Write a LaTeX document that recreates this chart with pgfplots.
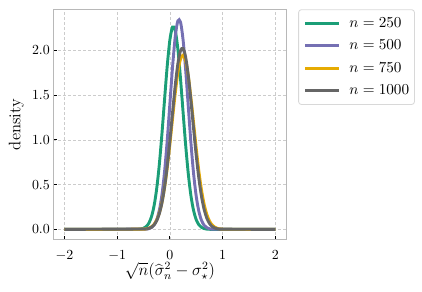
\documentclass[border=0pt]{standalone}
\usepackage{pgfplots}
\pgfplotsset{compat=1.18}
\definecolor{cgreen}{HTML}{1B9E77}
\definecolor{cpurple}{HTML}{7570B3}
\definecolor{cyellow}{HTML}{E6AB02}
\definecolor{cgray}{HTML}{666666}
\definecolor{framec}{HTML}{B8B8B8}
\definecolor{gridc}{HTML}{CCCCCC}
\definecolor{legc}{HTML}{D8D8D8}
\begin{document}
\begin{tikzpicture}
\path[use as bounding box] (-38.4pt,-37.2pt) rectangle (265.6pt,172.8pt);
\begin{axis}[
  scale only axis, width=168pt, height=166.1pt,
  xmin=-2.21, xmax=2.21, ymin=-0.117, ymax=2.457,
  xtick={-2,-1,0,1,2}, ytick={0,0.5,1,1.5,2},
  yticklabel style={xshift=1pt, /pgf/number format/fixed, /pgf/number format/fixed zerofill, /pgf/number format/precision=1},
  xticklabel style={yshift=-4.3pt},
  tick pos=left, tick align=inside, major tick length=3pt,
  tick style={black, line width=0.6pt},
  axis line style={framec, line width=0.8pt},
  grid=major, major grid style={gridc, line width=0.45pt, dash pattern=on 2.2pt off 1.4pt},
  tick label style={font=\fontsize{10}{12}\selectfont},
  xlabel={$\sqrt{n}(\widehat{\sigma}_n^2-\sigma_\star^2)$},
  ylabel={density},
  label style={font=\fontsize{12}{14}\selectfont},
  xlabel style={at={(axis description cs:0.5,-0.1355)}, anchor=center},
  ylabel style={at={(axis description cs:-0.159,0.5)}, anchor=center},
  legend cell align=left,
  legend image code/.code={\draw[#1, line width=2.1pt] (0pt,0pt) -- (24pt,0pt); \path (30.7pt,0pt);},
  legend style={at={(1.05,1)}, anchor=north west, draw=legc, fill=white, line width=0.6pt,
    rounded corners=2pt, inner xsep=3.8pt, inner ysep=4.5pt,
    font=\fontsize{11.4}{13.7}\selectfont, row sep=5.75pt,
    nodes={inner sep=0pt, text height=8pt, text depth=2.5pt}},
  every axis plot/.append style={line width=2.1pt},
]
\addplot[cgreen, smooth] coordinates {(-0.6,0.0018) (-0.55,0.0051) (-0.5,0.0131) (-0.45,0.0314) (-0.4,0.0691) (-0.35,0.1406) (-0.3,0.264) (-0.25,0.457) (-0.2,0.730) (-0.15,1.075) (-0.1,1.461) (-0.05,1.831) (0,2.118) (0.05,2.259) (0.1,2.223) (0.15,2.017) (0.2,1.689) (0.25,1.305) (0.3,0.930) (0.35,0.611) (0.4,0.370) (0.45,0.207) (0.5,0.1068) (0.55,0.0509) (0.6,0.0223) (0.65,0.0090) (0.7,0.0034) (0.75,0.001)};
\addlegendentry{$n=250$}
\addplot[cgreen, forget plot] coordinates {(-2,0) (-0.6,0.0018)};
\addplot[cgreen, forget plot] coordinates {(0.75,0.001) (2,0)};
\addplot[cpurple, smooth] coordinates {(-0.45,0.0029) (-0.4,0.0082) (-0.35,0.0211) (-0.3,0.0497) (-0.25,0.1078) (-0.2,0.2142) (-0.15,0.3904) (-0.1,0.6525) (-0.05,1.0005) (0,1.407) (0.05,1.814) (0.1,2.146) (0.15,2.327) (0.2,2.315) (0.25,2.113) (0.3,1.768) (0.35,1.357) (0.4,0.955) (0.45,0.616) (0.5,0.365) (0.55,0.198) (0.6,0.0987) (0.65,0.0451) (0.7,0.0189) (0.75,0.0072) (0.8,0.0026)};
\addlegendentry{$n=500$}
\addplot[cpurple, forget plot] coordinates {(-2,0) (-0.45,0.0029)};
\addplot[cpurple, forget plot] coordinates {(0.8,0.0026) (2,0)};
\addplot[cyellow, smooth] coordinates {(-0.5,0.0026) (-0.45,0.0062) (-0.4,0.0138) (-0.35,0.0288) (-0.3,0.0568) (-0.25,0.1055) (-0.2,0.1845) (-0.15,0.304) (-0.1,0.472) (-0.05,0.691) (0,0.953) (0.05,1.238) (0.1,1.515) (0.15,1.748) (0.2,1.900) (0.25,1.945) (0.3,1.877) (0.35,1.707) (0.4,1.462) (0.45,1.180) (0.5,0.898) (0.55,0.643) (0.6,0.434) (0.65,0.2765) (0.7,0.1658) (0.75,0.0936) (0.8,0.0498) (0.85,0.0250) (0.9,0.0118) (0.95,0.0053) (1.0,0.0022)};
\addlegendentry{$n=750$}
\addplot[cyellow, forget plot] coordinates {(-2,0) (-0.5,0.0026)};
\addplot[cyellow, forget plot] coordinates {(1.0,0.0022) (2,0)};
\addplot[cgray, smooth] coordinates {(-0.45,0.0048) (-0.4,0.0112) (-0.35,0.0246) (-0.3,0.0507) (-0.25,0.0978) (-0.2,0.1769) (-0.15,0.300) (-0.1,0.477) (-0.05,0.711) (0,0.994) (0.05,1.303) (0.1,1.601) (0.15,1.845) (0.2,1.993) (0.25,2.019) (0.3,1.918) (0.35,1.708) (0.4,1.426) (0.45,1.116) (0.5,0.819) (0.55,0.564) (0.6,0.364) (0.65,0.220) (0.7,0.1249) (0.75,0.0664) (0.8,0.0331) (0.85,0.0155) (0.9,0.0068) (0.95,0.0028)};
\addlegendentry{$n=1000$}
\addplot[cgray, forget plot] coordinates {(-2,0) (-0.45,0.0048)};
\addplot[cgray, forget plot] coordinates {(0.95,0.0028) (2,0)};
\end{axis}
\end{tikzpicture}
\end{document}
